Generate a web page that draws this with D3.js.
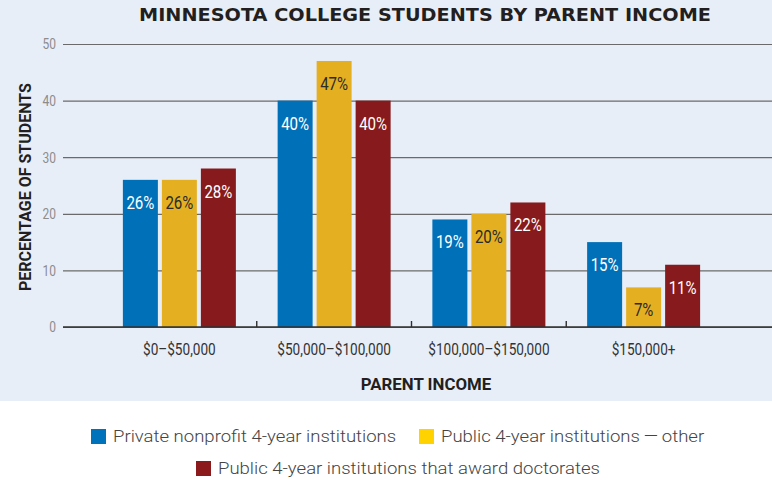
<!DOCTYPE html>
<html>
<head>
<meta charset="utf-8">
<script src="https://cdn.jsdelivr.net/npm/d3@7"></script>
<style>
  body { margin: 0; background: #fff; }
  svg { display: block; }
  .cond { font-family: Roboto, sans-serif; }
</style>
</head>
<body>
<div id="viz-container"></div>
<script>
let width = 772;
let height = 483;

// data
let categories = ['$0\u2013$50,000', '$50,000\u2013$100,000', '$100,000\u2013$150,000', '$150,000+'];
let seriesNames = ['Private nonprofit 4-year institutions', 'Public 4-year institutions\u2009\u2014\u2009other', 'Public 4-year institutions that award doctorates'];
let privateNonprofit = [26, 40, 19, 15];
let publicOther = [26, 47, 20, 7];
let publicDoctorate = [28, 40, 22, 11];
let yTicks = [0, 10, 20, 30, 40, 50];

let barColors = ['#0070b9', '#e4b022', '#861a1c'];
let legendColors = ['#0072bc', '#ffd200', '#8b1a1d'];
let labelColors = ['#ffffff', '#2b2b2b', '#ffffff'];

let allSeries = [privateNonprofit, publicOther, publicDoctorate];

// squeeze text horizontally, no condensed face is installed
function condense(sel, k){
  sel.each(function(){
    let w = this.getComputedTextLength();
    d3.select(this).attr('textLength', w * k).attr('lengthAdjust', 'spacingAndGlyphs');
  });
}

let viz = d3.select('#viz-container')
  .append('svg')
  .attr('width', width)
  .attr('height', height);

// light blue panel
viz.append('rect')
  .attr('x', 0).attr('y', 0)
  .attr('width', width).attr('height', 401)
  .attr('fill', '#e8eef8');

let plotLeft = 63;
let plotRight = 772;

let y = d3.scaleLinear().domain([0, 50]).range([327, 44]);
let x0 = d3.scaleBand().domain(categories).range([102, 721]).padding(0);
let groupWidth = 113;
let x1 = d3.scaleBand().domain(d3.range(seriesNames.length))
  .range([0, groupWidth]).paddingInner(4 / 39);

// gridlines + y labels
let yAxis = viz.append('g')
  .attr('transform', 'translate(' + plotLeft + ',0)')
  .call(d3.axisLeft(y).tickValues(yTicks).tickSize(-(plotRight - plotLeft)).tickPadding(7));
yAxis.select('.domain').remove();
yAxis.selectAll('.tick line').attr('stroke', '#6a6a6a').attr('stroke-width', 1.2);
yAxis.selectAll('.tick text')
  .attr('class', 'cond')
  .attr('fill', '#8c8c8c')
  .attr('font-size', 15)
  .call(condense, 0.8);

// title
viz.append('text')
  .text('MINNESOTA COLLEGE STUDENTS BY PARENT INCOME')
  .attr('x', 425).attr('y', 21)
  .attr('text-anchor', 'middle')
  .attr('font-family', 'DejaVu Sans, sans-serif')
  .attr('font-weight', 'bold')
  .attr('font-size', 18)
  .attr('textLength', 572)
  .attr('lengthAdjust', 'spacingAndGlyphs')
  .attr('fill', '#231f20');

// bars
let rows = categories.map(function(c, i){
  return { cat: c, values: allSeries.map(s => s[i]) };
});

let groups = viz.selectAll('.group').data(rows).enter()
  .append('g')
  .attr('class', 'group')
  .attr('transform', function(d){
    return 'translate(' + (x0(d.cat) + x0.bandwidth() / 2 - groupWidth / 2) + ',0)';
  });

groups.selectAll('rect').data(d => d.values).enter()
  .append('rect')
  .attr('x', (d, i) => x1(i))
  .attr('y', d => y(d))
  .attr('width', x1.bandwidth())
  .attr('height', d => y(0) - y(d))
  .attr('fill', (d, i) => barColors[i]);

groups.selectAll('.val').data(d => d.values).enter()
  .append('text')
  .attr('class', 'val cond')
  .text(d => d + '%')
  .attr('x', (d, i) => x1(i) + x1.bandwidth() / 2)
  .attr('y', d => y(d) + 29)
  .attr('text-anchor', 'middle')
  .attr('font-size', 17.5)
  .attr('fill', (d, i) => labelColors[i])
  .call(condense, 0.86);

// baseline and ticks between groups
viz.append('line')
  .attr('x1', plotLeft).attr('x2', plotRight)
  .attr('y1', y(0)).attr('y2', y(0))
  .attr('stroke', '#2f2f2f').attr('stroke-width', 1.6);

viz.selectAll('.sep').data(categories.slice(1)).enter()
  .append('line')
  .attr('class', 'sep')
  .attr('x1', d => x0(d)).attr('x2', d => x0(d))
  .attr('y1', y(0) - 6).attr('y2', y(0))
  .attr('stroke', '#2f2f2f').attr('stroke-width', 1.4);

// x labels
let xAxis = viz.append('g')
  .attr('transform', 'translate(0,' + y(0) + ')')
  .call(d3.axisBottom(x0).tickSize(0).tickPadding(17));
xAxis.select('.domain').remove();
xAxis.selectAll('.tick text')
  .attr('class', 'cond')
  .attr('fill', '#333')
  .attr('font-size', 16)
  .call(condense, 0.85);

// axis titles
viz.append('text')
  .text('PARENT INCOME')
  .attr('class', 'cond')
  .attr('x', 426).attr('y', 390)
  .attr('text-anchor', 'middle')
  .attr('font-weight', 'bold')
  .attr('font-size', 16.5)
  .attr('fill', '#231f20')
  .call(condense, 1.02);

viz.append('text')
  .text('PERCENTAGE OF STUDENTS')
  .attr('class', 'cond')
  .attr('transform', 'translate(31,187) rotate(-90)')
  .attr('text-anchor', 'middle')
  .attr('font-weight', 'bold')
  .attr('font-size', 16)
  .attr('fill', '#231f20');

// legend
let legendItems = [
  { x: 91, y: 429 },
  { x: 419, y: 429 },
  { x: 196, y: 461 }
];

let legend = viz.selectAll('.legend').data(seriesNames).enter()
  .append('g')
  .attr('class', 'legend')
  .attr('transform', (d, i) => 'translate(' + legendItems[i].x + ',' + legendItems[i].y + ')');

legend.append('rect')
  .attr('width', 15).attr('height', 15)
  .attr('fill', (d, i) => legendColors[i]);

legend.append('text')
  .text(d => d)
  .attr('x', 22).attr('y', 13)
  .attr('font-family', 'Roboto, sans-serif')
  .attr('font-weight', 300)
  .attr('font-size', 17)
  .attr('fill', '#444')
  .call(condense, 1.09);
</script>
</body>
</html>
